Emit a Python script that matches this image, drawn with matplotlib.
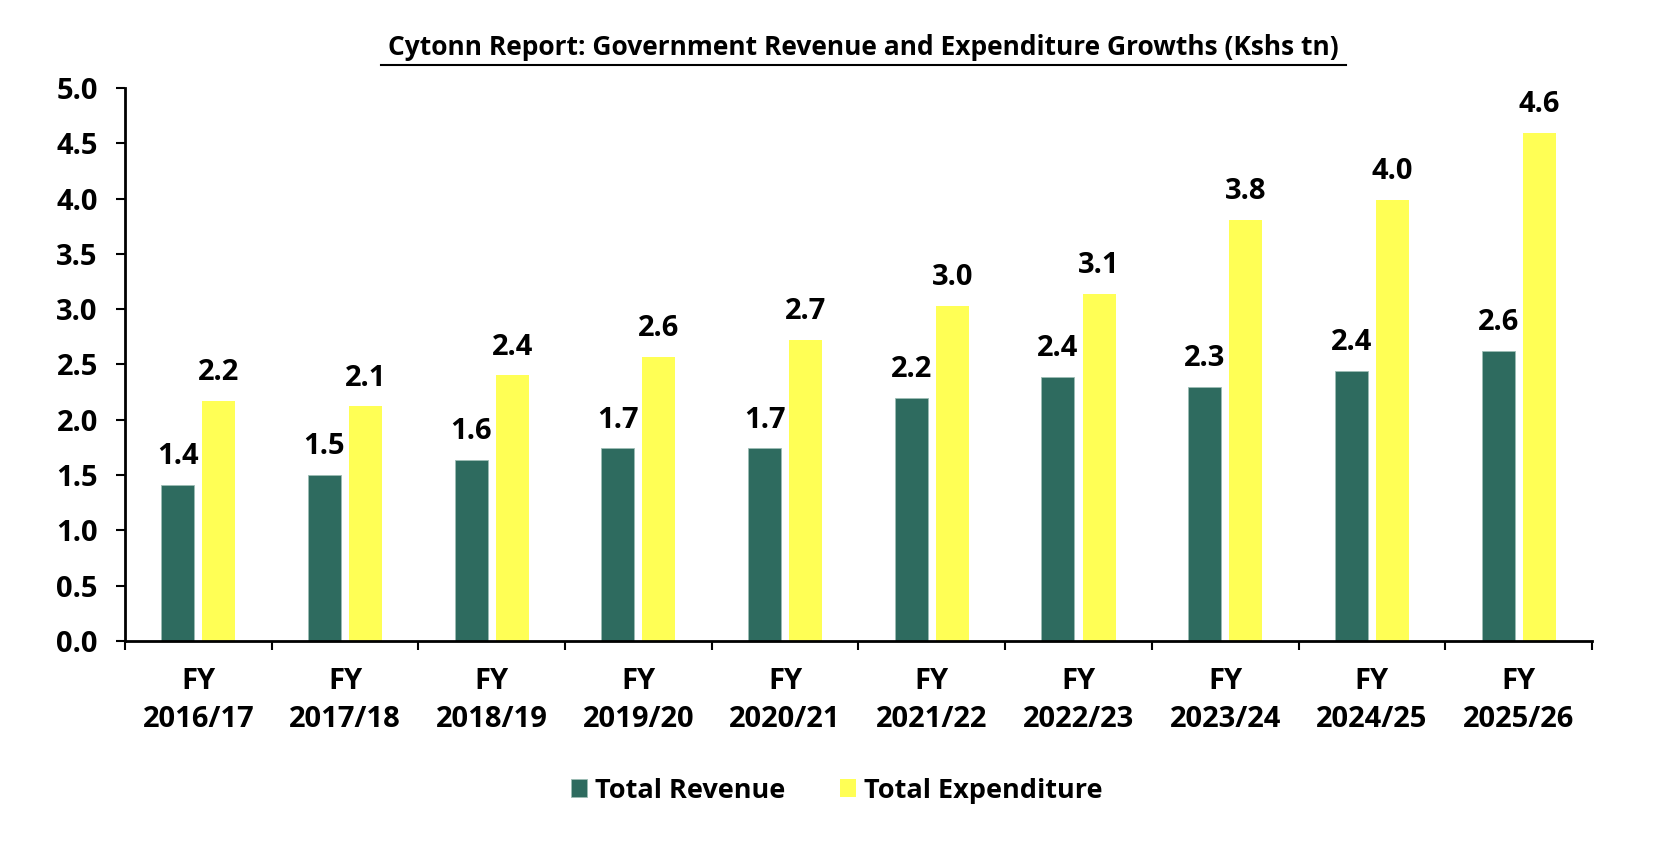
import numpy as np
import matplotlib
matplotlib.use("Agg")
import matplotlib.pyplot as plt
from matplotlib.ticker import FixedLocator, MultipleLocator

plt.rcParams["font.family"] = ["Open Sans", "DejaVu Sans"]
plt.rcParams["font.weight"] = "bold"

years = ["2016/17", "2017/18", "2018/19", "2019/20", "2020/21",
         "2021/22", "2022/23", "2023/24", "2024/25", "2025/26"]
revenue = [1.41, 1.50, 1.64, 1.74, 1.74, 2.20, 2.39, 2.30, 2.44, 2.62]
expenditure = [2.17, 2.12, 2.40, 2.57, 2.72, 3.03, 3.14, 3.81, 3.99, 4.59]

GREEN = "#2E6B5F"
YELLOW = "#FFFF55"

fig = plt.figure(figsize=(16.8, 8.5), dpi=100)
ax = fig.add_axes([0.0744, 0.246, 0.8732, 0.6505])

x = np.arange(len(years))
w = 0.225
off = 0.14
b1 = ax.bar(x - off, revenue, w, color=GREEN, edgecolor="#9DBDB5", linewidth=0.6,
            label="Total Revenue")
b2 = ax.bar(x + off, expenditure, w, color=YELLOW, linewidth=0, label="Total Expenditure")

for bars, vals in ((b1, revenue), (b2, expenditure)):
    for r, v in zip(bars, vals):
        ax.annotate(f"{v:.1f}", (r.get_x() + r.get_width() / 2, v),
                    xytext=(0, 10), textcoords="offset points",
                    ha="center", va="bottom", fontsize=21, fontweight="bold")

ax.set_xlim(-0.5, len(years) - 0.5)
ax.set_ylim(0, 5.0)
ax.yaxis.set_major_locator(MultipleLocator(0.5))
ax.yaxis.set_major_formatter(plt.FuncFormatter(lambda v, _: f"{v:.1f}"))

ax.xaxis.set_major_locator(FixedLocator(x))
ax.set_xticklabels([f"FY\n{y}" for y in years], linespacing=1.4)
ax.xaxis.set_minor_locator(FixedLocator(np.arange(len(years) + 1) - 0.5))
ax.tick_params(axis="x", which="major", length=0, pad=19, labelsize=21)
ax.tick_params(axis="x", which="minor", length=6.5, width=1.5, direction="out")
ax.tick_params(axis="y", length=6.5, width=1.5, labelsize=21, pad=13)

for s in ("top", "right"):
    ax.spines[s].set_visible(False)
for s in ("left", "bottom"):
    ax.spines[s].set_linewidth(2)
    ax.spines[s].set_color("black")

fig.text(0.514, 0.944, "Cytonn Report: Government Revenue and Expenditure Growths (Kshs tn)",
         ha="center", va="center", fontsize=19, fontweight="bold")
title_line = plt.Line2D([0.227, 0.801], [0.924, 0.924], transform=fig.transFigure,
                        color="black", linewidth=1.5)
fig.add_artist(title_line)

fig.legend(handles=[b1, b2], loc="center", bbox_to_anchor=(0.498, 0.07), ncol=2,
           frameon=False, fontsize=19.5, handlelength=0.6, handleheight=0.6,
           handletextpad=0.3, columnspacing=2.0)

fig.savefig("out.png", dpi=100)
